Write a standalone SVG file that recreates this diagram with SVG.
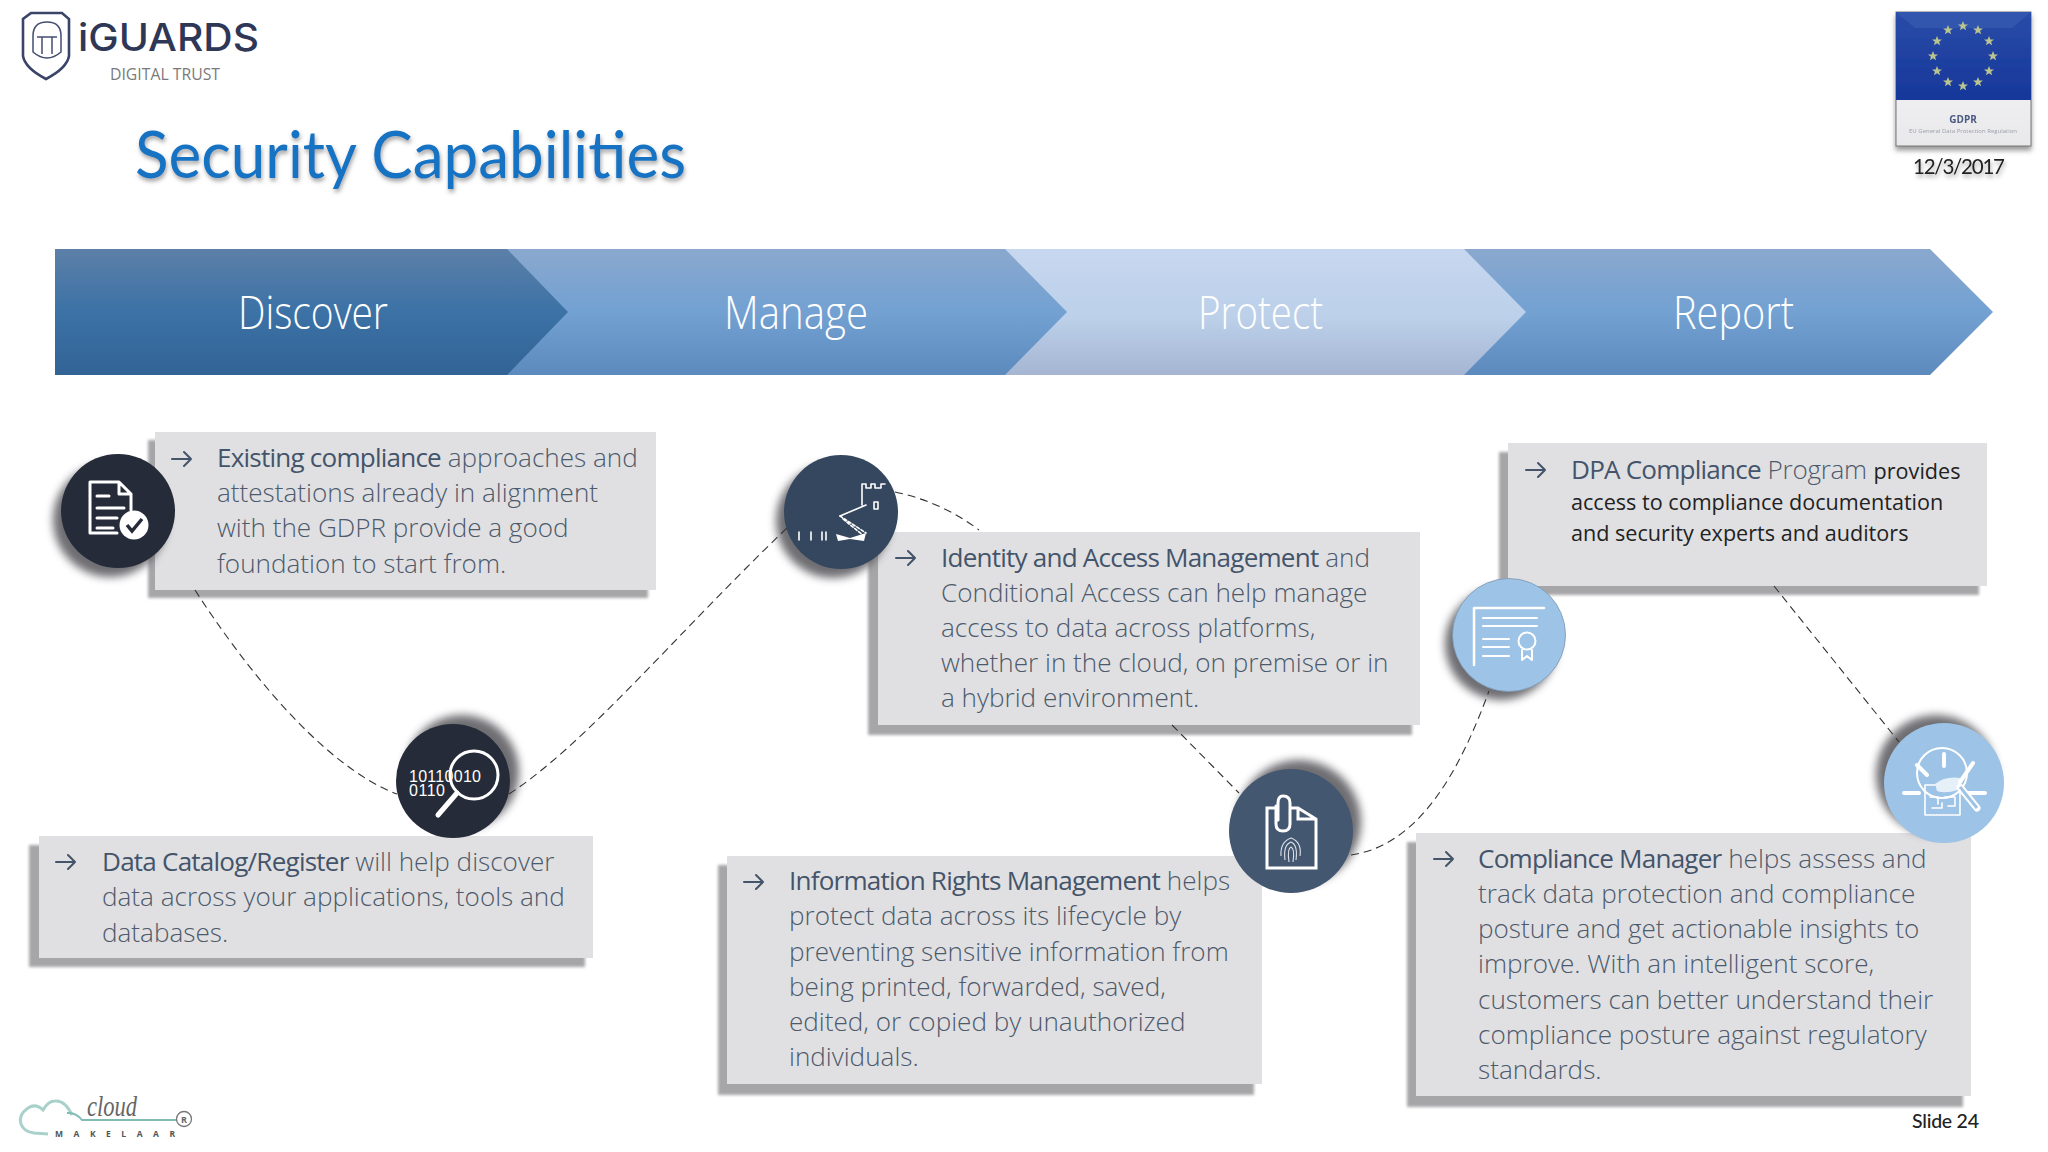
<svg xmlns="http://www.w3.org/2000/svg" width="2048" height="1152" viewBox="0 0 2048 1152">
<style>
text{font-family:"Open Sans","Liberation Sans",sans-serif}
.body{font-size:26.1px;font-weight:300;fill:#4d5a6c}
.strong{font-weight:400;fill:#44546a;letter-spacing:-.8px}
.dark{font-size:21.6px;font-weight:400;fill:#222}
.chev{font-size:46px;font-weight:300;fill:#fff}
.cal{font-family:Lato,"Liberation Sans",sans-serif}
.box{fill:#e0e0e2}
.boxs{fill:#a6a6a9;filter:url(#b2)}
.conn{fill:none;stroke:#333;stroke-width:1.1;stroke-dasharray:8 5}
.ic{fill:none;stroke:#fff;stroke-linecap:round;stroke-linejoin:round}
.w3{stroke-width:3}.w2{stroke-width:2}.w25{stroke-width:2.5}.w4{stroke-width:4}.w5{stroke-width:5}.w7{stroke-width:7}
.ict{fill:none;stroke:#fff;stroke-width:1.6;stroke-linecap:round;stroke-linejoin:round}
.arr{fill:none;stroke:#44546a;stroke-width:2;stroke-linecap:round;stroke-linejoin:round}
.cs{fill:#55555a;opacity:.85;filter:url(#b4)}
</style>
<defs>
<filter id="b2" x="-5%" y="-5%" width="110%" height="110%"><feGaussianBlur stdDeviation="1.5"/></filter>
<filter id="b4" x="-30%" y="-30%" width="160%" height="160%"><feGaussianBlur stdDeviation="4"/></filter>
<filter id="b1" x="-10%" y="-10%" width="120%" height="120%"><feGaussianBlur stdDeviation=".7"/></filter>
<filter id="ts" x="-5%" y="-20%" width="110%" height="150%"><feDropShadow dx="1" dy="3" stdDeviation="2" flood-color="#555" flood-opacity=".55"/></filter>
<filter id="gs" x="-10%" y="-10%" width="120%" height="125%"><feDropShadow dx="0" dy="4" stdDeviation="2.5" flood-color="#555" flood-opacity=".6"/></filter>
<linearGradient id="g1" x1="0" y1="0" x2="0" y2="1"><stop offset="0" stop-color="#5c80a8"/><stop offset=".5" stop-color="#3c72a6"/><stop offset="1" stop-color="#326395"/></linearGradient>
<linearGradient id="g2" x1="0" y1="0" x2="0" y2="1"><stop offset="0" stop-color="#8aa8ce"/><stop offset=".5" stop-color="#72a1d2"/><stop offset="1" stop-color="#5d8abd"/></linearGradient>
<linearGradient id="g3" x1="0" y1="0" x2="0" y2="1"><stop offset="0" stop-color="#c7d7ef"/><stop offset=".55" stop-color="#bcd0ea"/><stop offset="1" stop-color="#a5b5d2"/></linearGradient>
<linearGradient id="gw" x1="0" y1="0" x2="0" y2="1"><stop offset="0" stop-color="#d8dade"/><stop offset=".3" stop-color="#f4f4f6"/><stop offset="1" stop-color="#e9e9ec"/></linearGradient>
<linearGradient id="gb" x1="0" y1="0" x2="0" y2="1"><stop offset="0" stop-color="#2a4ca8"/><stop offset="1" stop-color="#16379a"/></linearGradient>
<path id="ar" class="arr" d="M0 0h19M12-7l7 7-7 7"/>
<polygon id="st" points="0,-5 1.400,-1.500 5,-1.500 2.100,.7 3.100,4.200 0,2.200 -3.100,4.200 -2.100,.7 -5,-1.500 -1.400,-1.500" fill="#b9c48f"/>
</defs>
<rect width="2048" height="1152" fill="#fff"/>

<g id="logo-iguards">
<path d="M31 13H62L69 19V56Q67 68 46 79Q25 68 23 56V19Z" fill="none" stroke="#3a4468" stroke-width="2.600"/>
<path d="M33 52V36Q33 22 47 22Q61 22 61 36V52Q54 58 47 58Q40 58 33 52ZM37 37H57M42 37V54M52 37V54" fill="none" stroke="#434d72" stroke-width="1.500"/>
<text x="78" y="51" font-size="38" font-weight="500" fill="#2f3756" textLength="181" lengthAdjust="spacingAndGlyphs" style="font-family:Inter,'Liberation Sans',sans-serif">iGUARDS</text>
<text x="110" y="80" font-size="16" fill="#7a7a7c" textLength="110" lengthAdjust="spacingAndGlyphs">DIGITAL TRUST</text>
</g>

<text id="title" class="cal" x="135" y="178" font-size="65" font-weight="400" fill="#1272c2" textLength="551" lengthAdjust="spacingAndGlyphs" filter="url(#ts)">Security Capabilities</text>

<g id="badge-gdpr">
<g filter="url(#gs)">
<rect x="1896" y="12" width="135" height="134" fill="url(#gw)" stroke="#777" stroke-width="1"/>
<rect x="1896" y="12" width="135" height="88" fill="url(#gb)"/>
<polygon points="1896,12 2031,12 2012,28 1915,28" fill="#3a5fb5" opacity=".5"/>
</g>
<g filter="url(#b1)">
<use href="#st" x="1963" y="26"/><use href="#st" x="1978" y="30"/><use href="#st" x="1989" y="41"/><use href="#st" x="1993" y="56"/><use href="#st" x="1989" y="71"/><use href="#st" x="1978" y="82"/><use href="#st" x="1963" y="86"/><use href="#st" x="1948" y="82"/><use href="#st" x="1937" y="71"/><use href="#st" x="1933" y="56"/><use href="#st" x="1937" y="41"/><use href="#st" x="1948" y="30"/>
<text x="1963" y="123" font-size="10" font-weight="700" fill="#4a5a80" text-anchor="middle">GDPR</text>
<text x="1963" y="133" font-size="6" fill="#9a9ea8" text-anchor="middle">EU General Data Protection Regulation</text>
</g>
</g>
<text id="date" class="cal" x="1913" y="174" font-size="20.500" fill="#222" textLength="92" filter="url(#ts)">12/3/2017</text>

<g id="stage-report"><polygon points="1400,249 1930,249 1993,312 1930,375 1400,375" fill="url(#g2)"/><text class="chev" x="1673" y="328.500" textLength="121" lengthAdjust="spacingAndGlyphs">Report</text></g>
<g id="stage-protect"><polygon points="950,249 1464,249 1526,312 1464,375 950,375" fill="url(#g3)"/><text class="chev" x="1198" y="328.500" textLength="125" lengthAdjust="spacingAndGlyphs">Protect</text></g>
<g id="stage-manage"><polygon points="450,249 1005,249 1067,312 1005,375 450,375" fill="url(#g2)"/><text class="chev" x="724" y="328.500" textLength="144" lengthAdjust="spacingAndGlyphs">Manage</text></g>
<g id="stage-discover"><polygon points="55,249 507,249 568,312 507,375 55,375" fill="url(#g1)"/><text class="chev" x="238" y="328.500" textLength="150" lengthAdjust="spacingAndGlyphs">Discover</text></g>

<g id="box-existing">
<rect class="boxs" x="148" y="440" width="500" height="158"/><rect class="box" x="155" y="432" width="501" height="158"/>
<use href="#ar" x="172" y="459"/>
<text class="body" x="217" y="467"><tspan class="strong">Existing compliance</tspan> approaches and</text>
<text class="body" x="217" y="502">attestations already in alignment</text>
<text class="body" x="217" y="537">with the GDPR provide a good</text>
<text class="body" x="217" y="573">foundation to start from.</text>
</g>
<g id="node-discover-1">
<circle class="cs" cx="110" cy="520" r="57"/><circle cx="118" cy="511" r="57" fill="#252b38"/>
<path class="ic w3" d="M117 533H90V482H119L131 494V510M119 482V494H131M97 496H109M97 508H124M97 518H117M97 528H113"/>
<circle cx="134" cy="525" r="14.500" fill="#fff"/><path d="M127 525L132 531L142 519" fill="none" stroke="#252b38" stroke-width="3.500"/>
</g>

<g id="box-catalog">
<rect class="boxs" x="29" y="845" width="556" height="122"/><rect class="box" x="39" y="836" width="554" height="122"/>
<use href="#ar" x="56" y="862"/>
<text class="body" x="102" y="871"><tspan class="strong">Data Catalog/Register</tspan> will help discover</text>
<text class="body" x="102" y="906">data across your applications, tools and</text>
<text class="body" x="102" y="942">databases.</text>
</g>
<g id="node-discover-2">
<circle class="cs" cx="462" cy="772" r="57"/><circle cx="453" cy="781" r="57" fill="#252b38"/>
<text x="409" y="782" font-size="16" fill="#fff" textLength="72" lengthAdjust="spacing" style="font-family:'Liberation Sans',sans-serif">10110010</text>
<text x="409" y="796" font-size="16" fill="#fff" textLength="36" lengthAdjust="spacing" style="font-family:'Liberation Sans',sans-serif">0110</text>
<circle cx="474" cy="775" r="24" class="ic w3"/><path d="M457 793L438 815" class="ic w5"/>
</g>

<g id="box-iam">
<rect class="boxs" x="868" y="541" width="544" height="194"/><rect class="box" x="878" y="532" width="542" height="193"/>
<use href="#ar" x="896" y="558"/>
<text class="body" x="941" y="567"><tspan class="strong">Identity and Access Management</tspan> and</text>
<text class="body" x="941" y="602">Conditional Access can help manage</text>
<text class="body" x="941" y="637">access to data across platforms,</text>
<text class="body" x="941" y="672">whether in the cloud, on premise or in</text>
<text class="body" x="941" y="707">a hybrid environment.</text>
</g>
<g id="node-manage">
<circle class="cs" cx="833" cy="521" r="57"/><circle cx="841" cy="512" r="57" fill="#35475f"/>
<path class="ict" d="M862 505V484H866V488H871V484H875V488H881V484H885M866 505L840 516M874 502H878V509H874ZM799 532V540M811 532V540M822 532V540M826 532V540"/>
<path class="ict" stroke-dasharray="3 2" d="M840 516L866 533M843 519L864 536"/>
<path d="M836 534L850 538L866 533L864 541L850 539L838 541Z" fill="#fff"/>
</g>

<g id="box-irm">
<rect class="boxs" x="718" y="865" width="536" height="230"/><rect class="box" x="727" y="856" width="535" height="228"/>
<use href="#ar" x="744" y="882"/>
<text class="body" x="789" y="890"><tspan class="strong">Information Rights Management</tspan> helps</text>
<text class="body" x="789" y="925">protect data across its lifecycle by</text>
<text class="body" x="789" y="961">preventing sensitive information from</text>
<text class="body" x="789" y="996">being printed, forwarded, saved,</text>
<text class="body" x="789" y="1031">edited, or copied by unauthorized</text>
<text class="body" x="789" y="1066">individuals.</text>
</g>
<g id="node-protect">
<circle class="cs" cx="1299" cy="822" r="62"/><circle cx="1291" cy="831" r="62" fill="#445770"/>
<path class="ic w3" style="stroke-linecap:butt;stroke-linejoin:miter" d="M1291 808H1298L1316 819V868H1267V808H1276M1298 808V819H1316"/>
<path class="ic w3" d="M1276 806V824Q1276 831 1283 831Q1290 831 1290 824V803Q1290 796 1283 796Q1278 796 1278 803V820"/>
<path d="M1281 856Q1280 842 1291 838Q1302 842 1300 856M1285 860Q1283 845 1291 842Q1298 845 1296 860M1289 862Q1287 849 1291 847Q1295 849 1293 862" fill="none" stroke="#dfe3ea" stroke-width="1.100"/>
</g>

<g id="box-dpa">
<rect class="boxs" x="1499" y="452" width="480" height="143"/><rect class="box" x="1508" y="443" width="479" height="143"/>
<use href="#ar" x="1526" y="470"/>
<text class="body" x="1571" y="479"><tspan class="strong">DPA Compliance</tspan> <tspan letter-spacing="-.3">Program</tspan> <tspan font-size="21.600" font-weight="400" fill="#222">provides</tspan></text>
<text class="dark" x="1571" y="510">access to compliance documentation</text>
<text class="dark" x="1571" y="541">and security experts and auditors</text>
</g>
<g id="node-report-1">
<circle class="cs" cx="1501" cy="644" r="56"/><circle cx="1509" cy="635" r="56.500" fill="#9dc3e6" stroke="#7d97b0" stroke-width=".8"/>
<path class="ic w25" d="M1474 665V608H1544"/>
<path class="ic w2" d="M1483 618H1537M1483 626H1537M1483 639H1509M1483 647H1509M1483 656H1509"/>
<circle cx="1527" cy="641" r="8.500" class="ic w2"/>
<path class="ic w2" d="M1522 650V660L1527 656L1532 660V650"/>
</g>

<g id="box-compliance">
<rect class="boxs" x="1407" y="842" width="556" height="265"/><rect class="box" x="1416" y="833" width="555" height="263"/>
<use href="#ar" x="1434" y="859"/>
<text class="body" x="1478" y="868"><tspan class="strong">Compliance Manager</tspan> helps assess and</text>
<text class="body" x="1478" y="903">track data protection and compliance</text>
<text class="body" x="1478" y="938">posture and get actionable insights to</text>
<text class="body" x="1478" y="973">improve. With an intelligent score,</text>
<text class="body" x="1478" y="1009">customers can better understand their</text>
<text class="body" x="1478" y="1044">compliance posture against regulatory</text>
<text class="body" x="1478" y="1079">standards.</text>
</g>
<g id="node-report-2">
<circle class="cs" cx="1936" cy="775" r="60"/><circle cx="1944" cy="783" r="60" fill="#9dc3e6"/>
<circle cx="1942" cy="773" r="25" class="ic w2"/>
<path class="ic w4" d="M1944 754V766M1904 793H1919M1969 793H1985M1917 765L1927 775M1973 763L1960 782"/>
<path d="M1960 787L1977 808" class="ic w7"/>
<path d="M1960 787L1977 808" fill="none" stroke="#9dc3e6" stroke-width="3"/>
<path class="ict" d="M1925 785V815H1960V790M1930 797H1938V804M1945 797H1955V806H1948M1925 785H1935M1932 808H1942V803"/>
<path d="M1935 784Q1945 776 1960 778L1958 790Q1945 794 1937 791Z" fill="#fff" opacity=".75"/>
</g>

<g id="logo-cloud">
<path d="M72 1115Q65 1100 55 1101Q48 1101 43 1110Q36 1103 28 1108Q18 1115 21 1124Q24 1132 34 1133L48 1134" fill="none" stroke="#a9d1cb" stroke-width="3"/>
<path d="M67 1113Q76 1112 82 1120H177" fill="none" stroke="#7fbdb4" stroke-width="2"/>
<text x="87" y="1116" font-size="30" font-style="italic" fill="#666" textLength="50" lengthAdjust="spacingAndGlyphs" style="font-family:'Liberation Serif',serif">cloud</text>
<text x="55" y="1137" font-size="8.500" font-weight="700" fill="#555" textLength="120">MAKELAAR</text>
<circle cx="184" cy="1119" r="7.500" fill="none" stroke="#777" stroke-width="1.300"/>
<text x="184" y="1122.500" font-size="9" font-weight="700" fill="#666" text-anchor="middle">R</text>
</g>

<text id="slide-number" class="cal" x="1912" y="1128" font-size="19.500" font-weight="500" fill="#222" textLength="67">Slide 24</text>

<g id="connectors">
<path class="conn" d="M195 590C240 660 320 765 397 794"/>
<path class="conn" d="M509 794C585 745 680 630 787 528"/>
<path class="conn" d="M895 492Q942 502 979 530"/>
<path class="conn" d="M1172 725L1239 793"/>
<path class="conn" d="M1351 855C1420 845 1460 770 1489 691"/>
<path class="conn" d="M1774 586L1899 742"/>
</g>
</svg>
